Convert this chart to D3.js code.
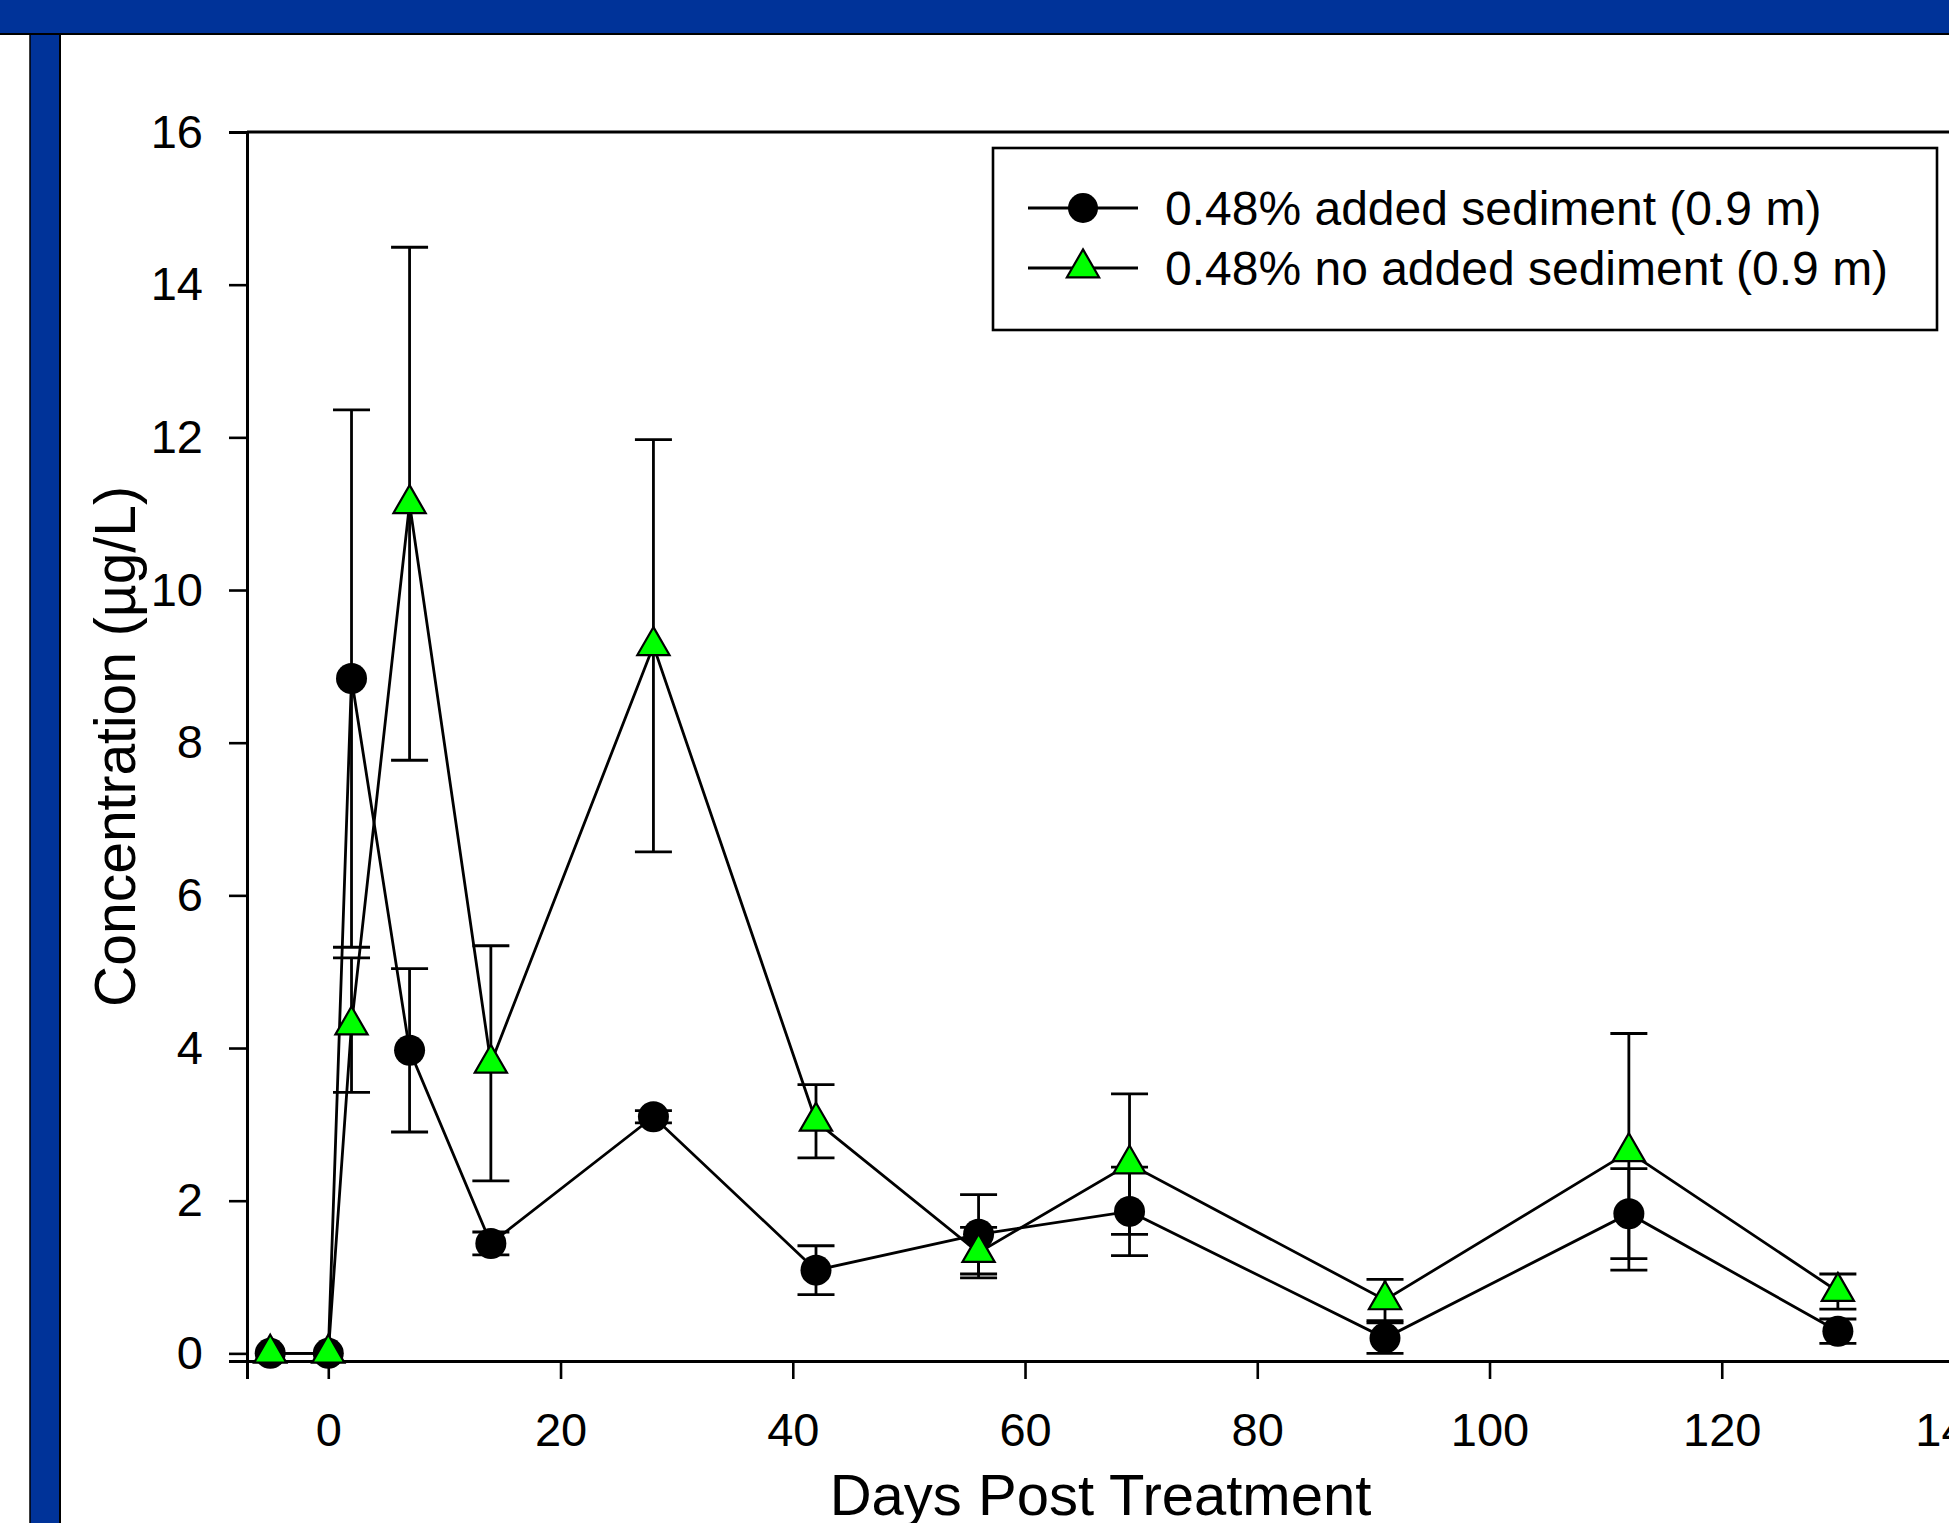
<!DOCTYPE html>
<html>
<head>
<meta charset="utf-8">
<script src="https://cdn.jsdelivr.net/npm/d3@7"></script>
<style>
  html, body { margin: 0; padding: 0; background: #fff; }
  svg { display: block; }
  text { font-family: "Liberation Sans", Arial, sans-serif; fill: #000; }
</style>
</head>
<body>
<svg id="chart" width="1949" height="1523"></svg>
<script>
// ---------------- data ----------------
const days = [-5, 0, 2, 7, 14, 28, 42, 56, 69, 91, 112, 130];
const addedMean = [0, 0, 8.84, 3.97, 1.44, 3.10, 1.09, 1.56, 1.86, 0.20, 1.83, 0.29];
const addedErr  = [0, 0, 3.52, 1.07, 0.15, 0.08, 0.32, 0.52, 0.58, 0.20, 0.59, 0.16];
const noAddedMean = [0, 0, 4.30, 11.13, 3.80, 9.27, 3.04, 1.32, 2.48, 0.70, 2.64, 0.81];
const noAddedErr  = [0, 0, 0.88, 3.36, 1.54, 2.70, 0.48, 0.33, 0.92, 0.27, 1.55, 0.23];
const seriesNames = ["0.48% added sediment (0.9 m)", "0.48% no added sediment (0.9 m)"];
const xTicks = [0, 20, 40, 60, 80, 100, 120, 140];
const yTicks = [0, 2, 4, 6, 8, 10, 12, 14, 16];
const xTitle = "Days Post Treatment";
const yTitle = "Concentration (\u00b5g/L)";

// ---------------- layout ----------------
const svg = d3.select("#chart");
const W = 1949, H = 1523;
const blue = "rgb(0,51,153)";
const font = '"Liberation Sans", Arial, sans-serif';

svg.append("rect").attr("x", 0).attr("y", 0).attr("width", W).attr("height", H).attr("fill", "#fff");
svg.append("rect").attr("x", 0).attr("y", 0).attr("width", W).attr("height", 34).attr("fill", blue);
svg.append("rect").attr("x", 30).attr("y", 34).attr("width", 30).attr("height", H - 34).attr("fill", blue);
svg.append("line").attr("x1", 0).attr("x2", W).attr("y1", 34).attr("y2", 34).attr("stroke", "#000").attr("stroke-width", 2);
svg.append("line").attr("x1", 30).attr("x2", 30).attr("y1", 34).attr("y2", H).attr("stroke", "#000").attr("stroke-width", 1.5);
svg.append("line").attr("x1", 60).attr("x2", 60).attr("y1", 34).attr("y2", H).attr("stroke", "#000").attr("stroke-width", 2);

const x = d3.scaleLinear().domain([-7, 140]).range([247, 1954]);
const y = d3.scaleLinear().domain([-0.1, 16]).range([1361, 132]);

// frame top line
svg.append("line")
  .attr("x1", x(-7)).attr("x2", x(140))
  .attr("y1", y(16)).attr("y2", y(16))
  .attr("stroke", "#000").attr("stroke-width", 3);

// axes
const xAxis = svg.append("g")
  .attr("transform", `translate(0,${y(-0.1)})`)
  .call(d3.axisBottom(x).tickValues(xTicks).tickSize(18).tickPadding(8).tickFormat(d3.format("d")));
const yAxis = svg.append("g")
  .attr("transform", `translate(${x(-7)},0)`)
  .call(d3.axisLeft(y).tickValues(yTicks).tickSize(18).tickPadding(26).tickFormat(d3.format("d")));

[xAxis, yAxis].forEach(g => {
  g.select(".domain").attr("stroke", "#000").attr("stroke-width", 3);
  g.selectAll(".tick line").attr("stroke", "#000").attr("stroke-width", 2.6);
  g.selectAll(".tick text").attr("font-family", font).attr("font-size", 47).attr("fill", "#000");
});
xAxis.selectAll(".tick text").attr("dy", null).attr("y", 85);

// axis titles
svg.append("text")
  .attr("x", (x(-7) + x(140)) / 2).attr("y", 1515)
  .attr("text-anchor", "middle").attr("font-size", 58).attr("font-family", font)
  .text(xTitle);
svg.append("text")
  .attr("transform", `translate(135,${(y(16) + y(-0.1)) / 2}) rotate(-90)`)
  .attr("text-anchor", "middle").attr("font-size", 57).attr("font-family", font)
  .text(yTitle);

// ---------------- series ----------------
const series = [
  { mean: addedMean, err: addedErr, shape: "circle", fill: "#000" },
  { mean: noAddedMean, err: noAddedErr, shape: "triangle", fill: "#00ff00" }
];
const triSym = d3.symbol().type(d3.symbolTriangle).size(450);
const capHalf = 18.5;
const sw = 2.8;

const line = d3.line().x(d => x(d.day)).y(d => y(d.v));

series.forEach(s => {
  const pts = days.map((d, i) => ({ day: d, v: s.mean[i], e: s.err[i] }));
  const g = svg.append("g");
  g.append("path").datum(pts).attr("d", line)
    .attr("fill", "none").attr("stroke", "#000").attr("stroke-width", sw);
  const eb = g.append("g").selectAll("g").data(pts.filter(p => p.e > 0)).join("g");
  eb.append("line")
    .attr("x1", p => x(p.day)).attr("x2", p => x(p.day))
    .attr("y1", p => y(p.v + p.e)).attr("y2", p => y(p.v - p.e))
    .attr("stroke", "#000").attr("stroke-width", sw);
  eb.append("line")
    .attr("x1", p => x(p.day) - capHalf).attr("x2", p => x(p.day) + capHalf)
    .attr("y1", p => y(p.v + p.e)).attr("y2", p => y(p.v + p.e))
    .attr("stroke", "#000").attr("stroke-width", sw);
  eb.append("line")
    .attr("x1", p => x(p.day) - capHalf).attr("x2", p => x(p.day) + capHalf)
    .attr("y1", p => y(p.v - p.e)).attr("y2", p => y(p.v - p.e))
    .attr("stroke", "#000").attr("stroke-width", sw);
  if (s.shape === "circle") {
    g.append("g").selectAll("circle").data(pts).join("circle")
      .attr("cx", p => x(p.day)).attr("cy", p => y(p.v)).attr("r", 15.5)
      .attr("fill", "#000");
  } else {
    g.append("g").selectAll("path").data(pts).join("path")
      .attr("d", triSym)
      .attr("transform", p => `translate(${x(p.day)},${y(p.v)})`)
      .attr("fill", s.fill).attr("stroke", "#000").attr("stroke-width", 2.2);
  }
});

// ---------------- legend ----------------
const lg = svg.append("g");
lg.append("rect").attr("x", 993).attr("y", 148).attr("width", 944).attr("height", 182)
  .attr("fill", "#fff").attr("stroke", "#000").attr("stroke-width", 2.6);
const rowsY = [208, 268];
series.forEach((s, i) => {
  const yy = rowsY[i];
  lg.append("line").attr("x1", 1028).attr("x2", 1138).attr("y1", yy).attr("y2", yy)
    .attr("stroke", "#000").attr("stroke-width", sw);
  if (s.shape === "circle") {
    lg.append("circle").attr("cx", 1083).attr("cy", yy).attr("r", 15).attr("fill", "#000");
  } else {
    lg.append("path").attr("d", triSym).attr("transform", `translate(1083,${yy})`)
      .attr("fill", s.fill).attr("stroke", "#000").attr("stroke-width", 2.2);
  }
  lg.append("text").attr("x", 1165).attr("y", yy + 17)
    .attr("font-size", 48).attr("font-family", font)
    .text(seriesNames[i]);
});
</script>
</body>
</html>
